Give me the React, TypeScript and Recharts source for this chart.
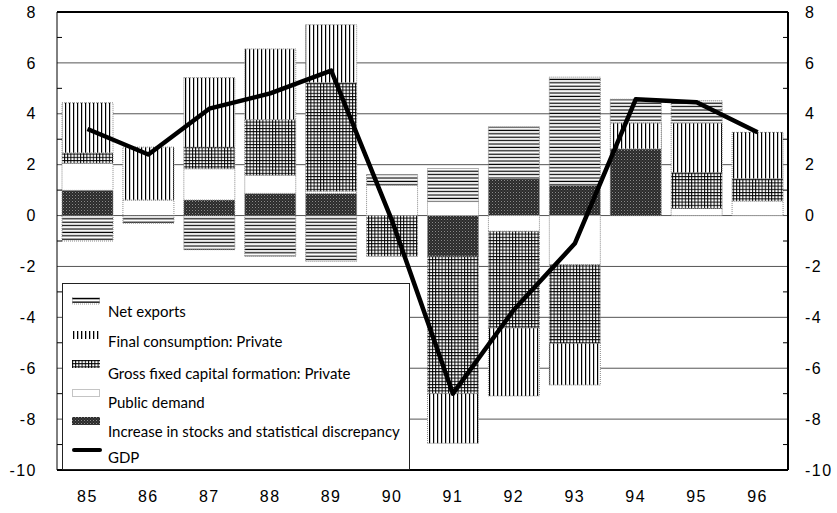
import React from 'react';
import { ComposedChart, Bar, Line, XAxis, YAxis, CartesianGrid, Legend, ReferenceLine } from 'recharts';

const years = ['85', '86', '87', '88', '89', '90', '91', '92', '93', '94', '95', '96'];
const netExports = [-1.0, -0.3, -1.34, -1.6, -1.8, 0.42, 1.3, 2.04, 4.25, 0.93, 0.87, 0];
const privateConsumption = [1.97, 2.08, 2.73, 2.78, 2.28, 0, -1.95, -2.67, -1.63, 1.02, 1.95, 1.82];
const gfcfPrivate = [0.4, 0, 0.85, 2.19, 4.26, -1.6, -5.4, -3.8, -3.1, 0, 1.41, 0.88];
const publicDemand = [1.07, 0.61, 1.23, 0.71, 0.09, 1.19, 0.55, -0.62, -1.93, 0, 0.28, 0.57];
const stocks = [0.99, 0, 0.61, 0.87, 0.87, 0, -1.6, 1.45, 1.19, 2.62, 0, 0];
const gdp = [3.4, 2.4, 4.2, 4.8, 5.7, -0.2, -7.0, -3.7, -1.1, 4.57, 4.45, 3.27];

const yTicks = [8, 7, 6, 5, 4, 3, 2, 1, 0, -1, -2, -3, -4, -5, -6, -7, -8, -9, -10];
const gridValues = [6, 4, 2, 0, -2, -4, -6, -8];
const seriesNames = [
  'Net exports',
  'Final consumption: Private',
  'Gross fixed capital formation: Private',
  'Public demand',
  'Increase in stocks and statistical discrepancy',
  'GDP',
];

const data = years.map((y, i) => ({
  year: y,
  netExports: netExports[i],
  privateConsumption: privateConsumption[i],
  gfcfPrivate: gfcfPrivate[i],
  publicDemand: publicDemand[i],
  stocks: stocks[i],
  gdp: gdp[i],
}));

const AXIS_FONT = '"Liberation Sans", Arial, sans-serif';

const LeftTick = (props: any) => {
  const { x, y, payload } = props;
  const v = payload.value;
  const ax = x + 20;
  if (v % 2 !== 0) {
    return <line x1={ax} x2={ax + 5} y1={y} y2={y} stroke="#000" strokeWidth={1} />;
  }
  return (
    <text x={x} y={y} dy="0.355em" textAnchor="end" fontFamily={AXIS_FONT} fontSize={16} letterSpacing={1.5} fill="#000">
      {v}
    </text>
  );
};

const RightTick = (props: any) => {
  const { x, y, payload } = props;
  const v = payload.value;
  const ax = x - 17;
  if (v % 2 !== 0) {
    return <line x1={ax - 5} x2={ax} y1={y} y2={y} stroke="#000" strokeWidth={1} />;
  }
  return (
    <text x={x} y={y} dy="0.355em" textAnchor="start" fontFamily={AXIS_FONT} fontSize={16} letterSpacing={1.5} fill="#000">
      {v}
    </text>
  );
};

const XTick = (props: any) => {
  const { x, y, payload } = props;
  return (
    <text x={x} y={y} dy="0.71em" textAnchor="middle" fontFamily={AXIS_FONT} fontSize={16} letterSpacing={1.5} fill="#000">
      {payload.value}
    </text>
  );
};

const Sym = ({ kind }: { kind: number }) => {
  const w = 28;
  if (kind === 0) {
    return (
      <svg width={w} height={8}>
        <rect x={0} y={1} width={w} height={1.3} fill="#000" />
        <rect x={0} y={4.5} width={w} height={1.3} fill="#000" />
        <rect x={0.5} y={0.5} width={w - 1} height={6.5} fill="none" stroke="#999" strokeDasharray="1 1" />
      </svg>
    );
  }
  if (kind === 1) {
    return (
      <svg width={w} height={8}>
        <rect x={0} y={0} width={w} height={8} fill="url(#pVert)" />
      </svg>
    );
  }
  if (kind === 2) {
    return (
      <svg width={w} height={8}>
        <rect x={0} y={0} width={w} height={8} fill="url(#pGrid)" />
      </svg>
    );
  }
  if (kind === 3) {
    return (
      <svg width={w} height={8}>
        <rect x={0.5} y={0.5} width={w - 1} height={7} fill="#fff" stroke="#888" strokeDasharray="1 1" />
      </svg>
    );
  }
  if (kind === 4) {
    return (
      <svg width={w} height={8}>
        <rect x={0} y={0} width={w} height={8} fill="url(#pDark)" />
      </svg>
    );
  }
  return (
    <svg width={w + 2} height={8}>
      <line x1={2} x2={w} y1={4} y2={4} stroke="#000" strokeWidth={4} strokeLinecap="round" />
    </svg>
  );
};

const textCenters = [27, 57, 89, 118, 147, 173];
const symCenters = [17, 51, 80, 109, 137, 166];

const LegendBox = () => (
  <div
    style={{
      position: 'relative',
      width: 348,
      height: 187,
      boxSizing: 'border-box',
      border: '1px solid #222',
      background: '#fff',
      fontFamily: 'Lato, "Open Sans", sans-serif',
      fontSize: 15,
      color: '#000',
    }}
  >
    {seriesNames.map((name, i) => (
      <React.Fragment key={name}>
        <div style={{ position: 'absolute', left: 9, top: symCenters[i] - 4, height: 8, lineHeight: 0 }}>
          <Sym kind={i} />
        </div>
        <div
          style={{
            position: 'absolute',
            left: 45,
            top: textCenters[i] - 9.2,
            lineHeight: '18px',
            whiteSpace: 'nowrap',
          }}
        >
          {name}
        </div>
      </React.Fragment>
    ))}
  </div>
);

const barStroke = { stroke: '#888', strokeWidth: 1, strokeDasharray: '1 1' };

export default function App() {
  return (
    <div style={{ position: 'absolute', left: 0, top: 0, width: 837, height: 513 }}>
      <svg width={0} height={0} style={{ position: 'absolute' }}>
        <defs>
          <pattern id="pVert" patternUnits="userSpaceOnUse" width={4} height={4}>
            <rect width={4} height={4} fill="#fff" />
            <rect x={1} y={0} width={1.3} height={4} fill="#000" />
          </pattern>
          <pattern id="pGrid" patternUnits="userSpaceOnUse" width={3.2} height={3.2}>
            <rect width={3.2} height={3.2} fill="#fff" />
            <rect x={0} y={0} width={1} height={3.2} fill="#000" />
            <rect x={0} y={0} width={3.2} height={1} fill="#000" />
          </pattern>
          <pattern id="pDark" patternUnits="userSpaceOnUse" width={3} height={3}>
            <rect width={3} height={3} fill="#2b2b2b" />
            <rect x={0} y={0} width={1} height={1} fill="#8a8a8a" />
            <rect x={1.5} y={1.5} width={1} height={1} fill="#5a5a5a" />
          </pattern>
        </defs>
      </svg>
      <ComposedChart
        width={837}
        height={513}
        data={data}
        stackOffset="sign"
        margin={{ top: 12, right: 0, bottom: 0, left: 0 }}
        barSize={51}
      >
        <defs>
          <pattern id="pHoriz" patternUnits="userSpaceOnUse" width={4} height={3.4}>
            <rect width={4} height={3.4} fill="#fff" />
            <rect x={0} y={0.6} width={4} height={1.2} fill="#000" />
          </pattern>
          <pattern id="pVertB" patternUnits="userSpaceOnUse" width={4} height={4}>
            <rect width={4} height={4} fill="#fff" />
            <rect x={1} y={0} width={1.2} height={4} fill="#000" />
          </pattern>
          <pattern id="pGridB" patternUnits="userSpaceOnUse" width={3.2} height={3.2}>
            <rect width={3.2} height={3.2} fill="#fff" />
            <rect x={0} y={0} width={1} height={3.2} fill="#000" />
            <rect x={0} y={0} width={3.2} height={1} fill="#000" />
          </pattern>
          <pattern id="pDarkB" patternUnits="userSpaceOnUse" width={3} height={3}>
            <rect width={3} height={3} fill="#2b2b2b" />
            <rect x={0} y={0} width={1} height={1} fill="#8a8a8a" />
            <rect x={1.5} y={1.5} width={1} height={1} fill="#5a5a5a" />
          </pattern>
        </defs>
        <CartesianGrid vertical={false} horizontalValues={gridValues} stroke="#555" strokeWidth={1} />
        <XAxis
          dataKey="year"
          axisLine={{ stroke: '#000', strokeWidth: 2 }}
          tickLine={false}
          tickSize={0}
          tickMargin={21}
          height={43}
          tick={<XTick />}
          interval={0}
        />
        <YAxis
          domain={[-10, 8]}
          ticks={yTicks}
          interval={0}
          width={57}
          axisLine={{ stroke: '#000', strokeWidth: 1 }}
          tickLine={false}
          tickSize={0}
          tickMargin={20}
          tick={<LeftTick />}
          allowDataOverflow
        />
        <YAxis
          yAxisId="r"
          orientation="right"
          domain={[-10, 8]}
          ticks={yTicks}
          interval={0}
          width={49}
          axisLine={{ stroke: '#000', strokeWidth: 2 }}
          tickLine={false}
          tickSize={0}
          tickMargin={17}
          tick={<RightTick />}
          allowDataOverflow
        />
        <ReferenceLine y={8} stroke="#000" strokeWidth={2} />
        <Bar dataKey="stocks" stackId="a" fill="url(#pDarkB)" {...barStroke} isAnimationActive={false} />
        <Bar dataKey="publicDemand" stackId="a" fill="#fff" {...barStroke} isAnimationActive={false} />
        <Bar dataKey="gfcfPrivate" stackId="a" fill="url(#pGridB)" {...barStroke} isAnimationActive={false} />
        <Bar dataKey="privateConsumption" stackId="a" fill="url(#pVertB)" {...barStroke} isAnimationActive={false} />
        <Bar dataKey="netExports" stackId="a" fill="url(#pHoriz)" {...barStroke} isAnimationActive={false} />
        <Line
          dataKey="gdp"
          stroke="#000"
          strokeWidth={4.5}
          dot={false}
          activeDot={false}
          strokeLinejoin="round"
          isAnimationActive={false}
        />
        <Legend
          layout="horizontal"
          verticalAlign="middle"
          align="center"
          content={() => <LegendBox />}
          wrapperStyle={{ position: 'absolute', left: 62, top: 283, width: 348, height: 187, margin: 0, padding: 0 }}
        />
      </ComposedChart>
    </div>
  );
}
